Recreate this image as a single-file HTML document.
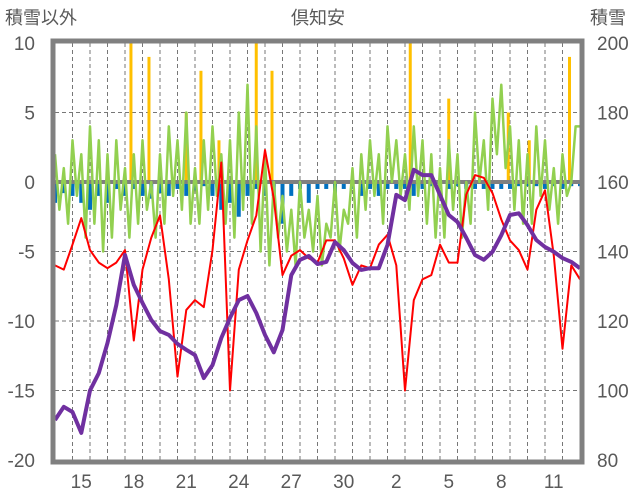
<!DOCTYPE html>
<html><head><meta charset="utf-8">
<style>
html,body{margin:0;padding:0;background:#fff;}
svg{display:block;font-family:"Liberation Sans","Noto Sans CJK JP",sans-serif;}
</style></head>
<body>
<svg id="chart" width="636" height="501">
<text x="5" y="24" font-size="18" fill="#595959">積雪以外</text>
<text x="318" y="24" font-size="18" fill="#595959" text-anchor="middle">倶知安</text>
<text x="590" y="24" font-size="18" fill="#595959">積雪</text>
<g id="grid"></g><g id="bars"></g><g id="lines"></g><g id="axes"></g>
</svg>
<script>
const dayLabels=["15","18","21","24","27","30","2","5","8","11"];
const leftTicks=[10,5,0,-5,-10,-15,-20];
const rightTicks=[200,180,160,140,120,100,80];
const purple=[91.5,95.3,93.8,87.8,100,105,113.7,124.6,139,130.4,125.2,120.3,117.1,116,113.4,111.7,110.2,103.6,107.3,115.1,120.9,126,127.2,122.3,116,111,117.4,133.2,137.6,138.7,136.4,137,142.7,140.4,136.7,134.7,135.2,135.2,141.9,156.3,154.8,163.5,162,162,156.3,150.5,148.5,143.9,139,137.6,139.9,144.7,150.5,151,147.6,143.3,141.3,139.9,138.1,137,135.2];
const red=[-6,-6.3,-4.5,-2.6,-4.9,-5.8,-6.2,-5.8,-4.9,-11.4,-6.3,-4,-2.4,-7,-14,-9.2,-8.5,-9,-4.9,1.4,-15,-6.3,-4.2,-2.4,2.3,-1.2,-6.7,-5.3,-4.9,-5.5,-5.8,-4.2,-4.2,-5.5,-7.4,-6,-6.2,-4.5,-3.8,-6,-15,-8.5,-7,-6.7,-4.5,-5.8,-5.8,-0.9,0.5,0.3,-0.8,-2.7,-4.2,-4.9,-6.3,-2,-0.6,-5.3,-12,-6,-7];
const green=[2,-2,1,-3, 3,-1,2,-4, 4,-3,3,-5, 2,-4,3,-2, 1,-4,2,-3, 3,-2,0,-4, 2,-3,4,-1, 3,-2,5,-3, 1,-3,3,-2, 4,-1,2,-3,
 3,-4,5,-2, 7,-3,4,-5, 2,-6,0,-4, -1,-5,-2,-6, 0,-4,-2,-5, -1,-6,-3,-4, 0,-5,-2,-3, 1,-4,2,-2, 3,-1,2,-3, 4,0,3,-1,
 2,-2,4,-1, 3,-3,2,-4, 1,-4,3,-2, 2,-4,0,-3, 5,0,3,-2, 6,2,7,1, 4,-2,3,-3, 2,-3,4,-1, 3,-2,1,-3, 2,-1,0,4, 4];
const blue=[-1.5,-0.8,-1,-1.5,-2,-1,-1.5,-0.5,-1,-0.5,-1,-1.2,-0.8,-1,-0.5,-1,-0.6,-0.3,-1,-2,-1.5,-2.5,-1,-0.5,-1,-1,-3,-1,-0.5,-1.5,-0.5,-0.5,-1,-0.5,-0.5,-1,-0.5,-1,-0.5,-0.5,-0.5,-1,-0.5,-0.3,-0.5,-0.5,-0.3,-0.5,-0.5,-0.5,-0.5,-0.5,-0.5,-0.3,-0.3,-0.3,-0.5,-0.3,-0.5,-0.3,-0.3];
const snowDays=[4.34,5.37,7.5,8.34,9.37,11.5,12.4,20.3,22.5,25.9,27.1,29.4];
const snowVals=[10,9,5,8,3,10,8,10,6,5,3,9];

const X0=55,X1=580,Y0=43,Y1=460,NDAYS=30;
const xDay=t=>X0+(X1-X0)*t/NDAYS;
const yL=v=>Y0+(10-v)*(Y1-Y0)/30;
const yR=v=>Y0+(200-v)*(Y1-Y0)/120;
const NS="http://www.w3.org/2000/svg";
function mk(tag,attrs,parent){const e=document.createElementNS(NS,tag);for(const k in attrs)e.setAttribute(k,attrs[k]);parent.appendChild(e);return e;}
const grid=document.getElementById('grid'),bars=document.getElementById('bars'),lines=document.getElementById('lines'),axes=document.getElementById('axes');
for(let d=1;d<NDAYS;d++){
  const l=mk('line',{x1:xDay(d),x2:xDay(d),y1:Y0,y2:Y1,stroke:'#777','stroke-width':1,'stroke-dasharray':'4,3'},grid);
  
  
}
leftTicks.forEach(v=>{
  if(v!==0&&v!==10&&v!==-20){
    const l=mk('line',{x1:X0,x2:X1,y1:yL(v),y2:yL(v),stroke:'#777','stroke-width':1,'stroke-dasharray':'4,3'},grid);
    
    
  }
  const t=mk('text',{x:35,y:yL(v)+7,'font-size':19,fill:'#595959','text-anchor':'end'},axes);
  t.textContent=v;
  
  
});
rightTicks.forEach(v=>{
  const t=mk('text',{x:597,y:yR(v)+7,'font-size':19,fill:'#595959'},axes);
  t.textContent=v;
  
  
});
dayLabels.forEach((s,i)=>{
  const t=mk('text',{x:xDay(1.5+3*i),y:488,'font-size':19,fill:'#595959','text-anchor':'middle'},axes);
  t.textContent=s;
  
  
});
snowDays.forEach((d,i)=>{
  const v=snowVals[i];
  const r=mk('rect',{x:xDay(d)-1.5,y:yL(v),width:3,height:yL(0)-yL(v),fill:'#ffc000'},bars);
  
  
});
blue.forEach((v,i)=>{
  const r=mk('rect',{x:xDay(i/2)-2,y:yL(0),width:4,height:yL(v)-yL(0),fill:'#0070c0'},bars);
  
  
});
const zl=mk('line',{x1:X0,x2:X1,y1:yL(0),y2:yL(0),stroke:'#808080','stroke-width':4},bars);


function series(arr,perDay,yf,color,w,name){
  const d=arr.map((v,i)=>(i?'L':'M')+xDay(i/perDay).toFixed(1)+','+yf(v).toFixed(1)).join(' ');
  const p=mk('path',{d:d,fill:'none',stroke:color,'stroke-width':w,'stroke-linejoin':'round'},lines);
  
  
}
series(green,4,yL,'#92d050',2.5,'green-series-line');
series(red,2,yL,'#ff0000',2,'red-series-line');
series(purple,2,yR,'#7030a0',4,'snow-depth-line');
const b=mk('rect',{x:X0-2,y:Y0-2,width:X1-X0+4,height:Y1-Y0+4,fill:'none',stroke:'#808080','stroke-width':5},axes);


</script>
</body></html>
